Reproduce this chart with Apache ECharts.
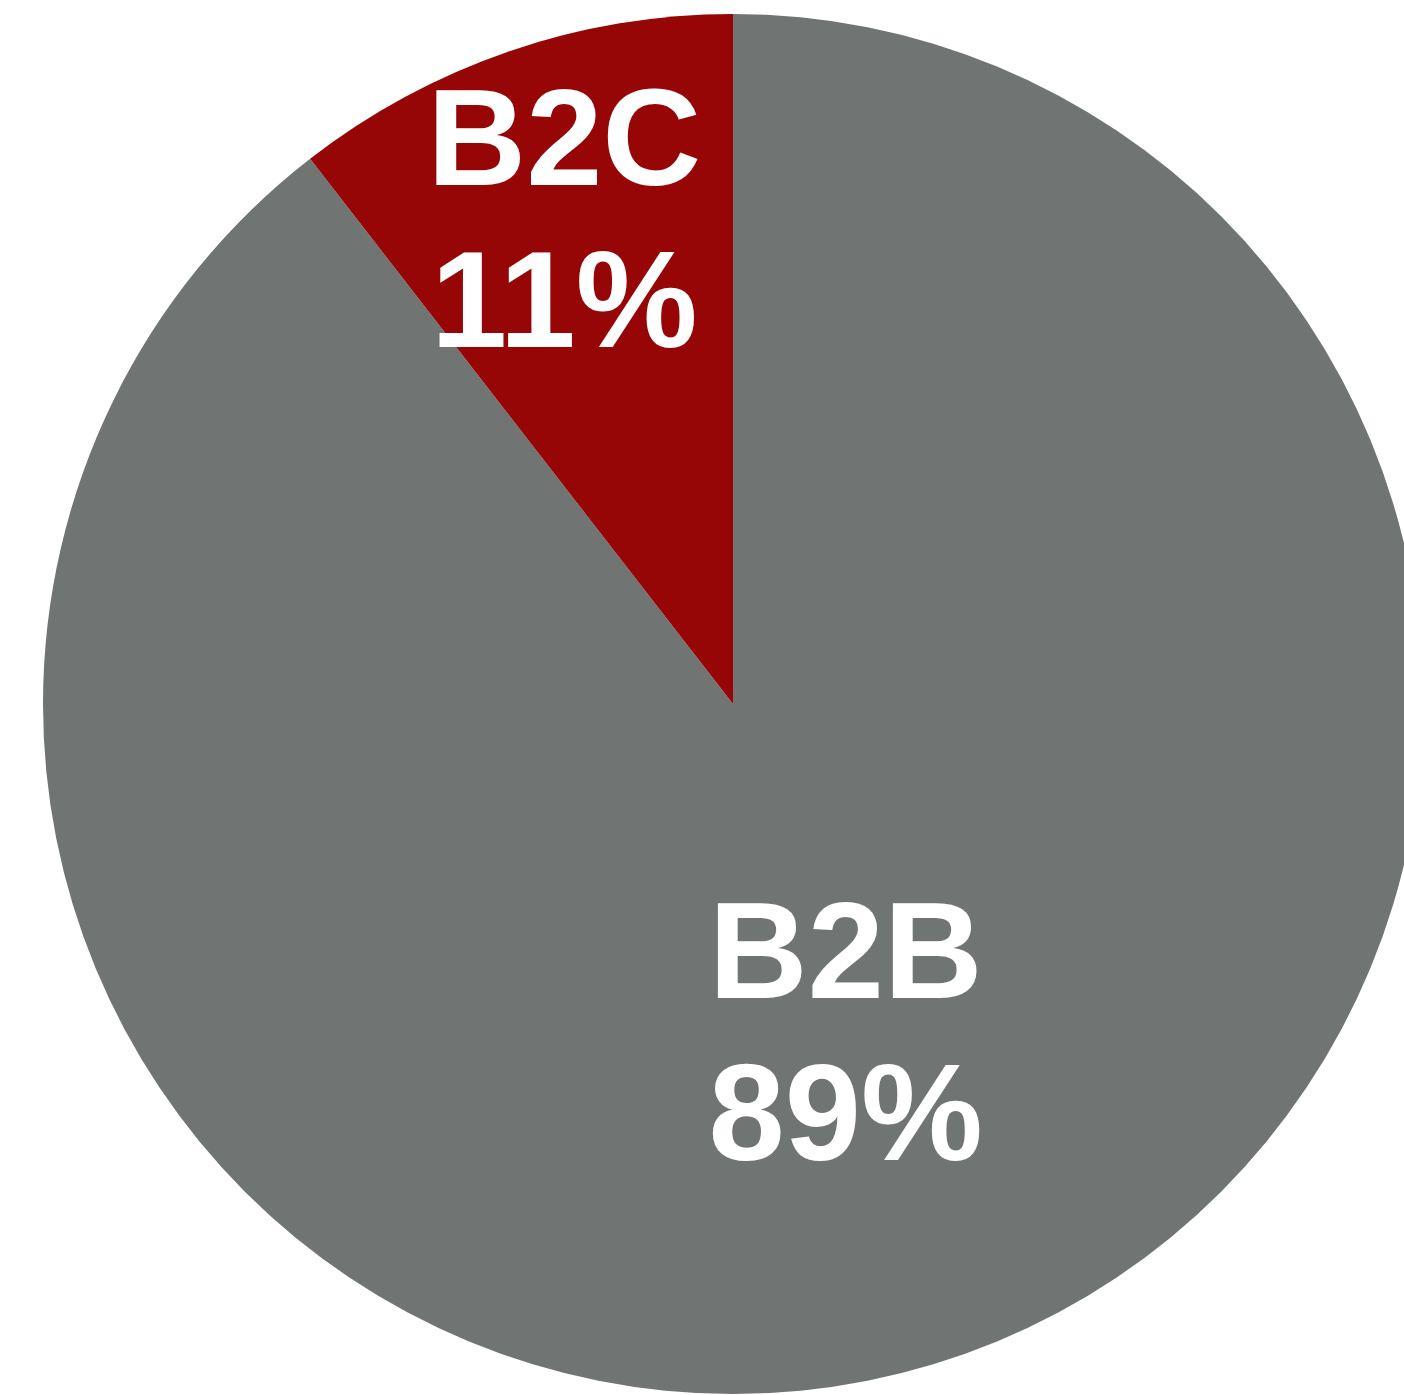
<!DOCTYPE html>
<html>
<head>
<meta charset="utf-8">
<script src="https://cdn.jsdelivr.net/npm/echarts@6/dist/echarts.min.js"></script>
<style>html,body{margin:0;padding:0;background:#fff;}#c{width:1404px;height:1395px;}</style>
</head>
<body>
<div id="c"></div>
<script>
var categories = ['B2B', 'B2C'];
var values = [89.5, 10.5];
var percentLabels = ['89%', '11%'];
var colors = ['#707573', '#960606'];
var labelOffsets = [[0, 8], [-56, -147]];

var chart = echarts.init(document.getElementById('c'), null, {renderer: 'canvas'});
var data = categories.map(function (name, i) {
  return {
    name: name,
    value: values[i],
    itemStyle: {color: colors[i]},
    label: {offset: labelOffsets[i]}
  };
});
chart.setOption({
  animation: false,
  series: [{
    type: 'pie',
    center: [733, 704],
    radius: 690,
    startAngle: 90,
    clockwise: true,
    avoidLabelOverlap: false,
    itemStyle: {borderWidth: 0},
    emphasis: {disabled: true},
    label: {
      show: true,
      position: 'inside',
      color: '#ffffff',
      fontFamily: 'Liberation Sans, Arial, Helvetica, sans-serif',
      fontWeight: 'bold',
      fontSize: 137,
      lineHeight: 162,
      align: 'center',
      formatter: function (p) {
        return p.name + '\n' + percentLabels[p.dataIndex];
      }
    },
    labelLine: {show: false},
    data: data
  }]
});
</script>
</body>
</html>
